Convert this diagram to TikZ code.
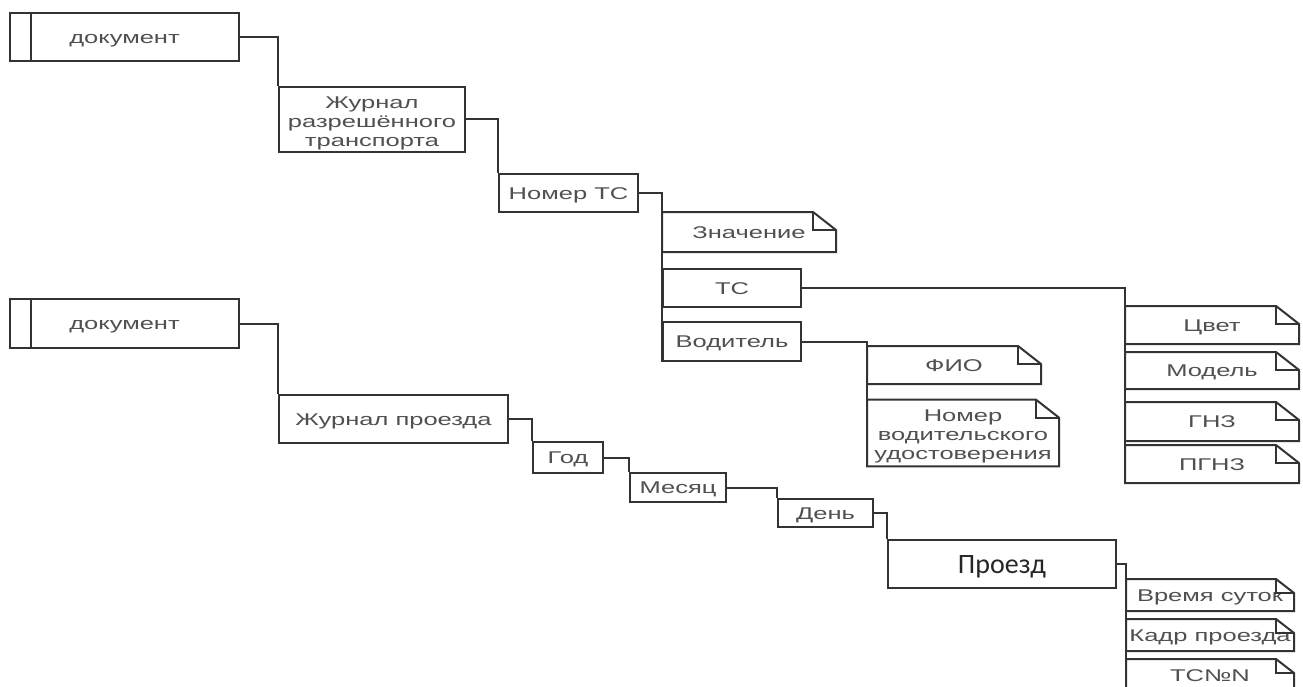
\documentclass[tikz,border=0pt]{standalone}
\usepackage{fontspec}
\newfontfamily\wfont[FakeStretch=1.5]{Liberation Sans}
\newfontfamily\cfont{Carlito}
\definecolor{lc}{HTML}{333333}
\definecolor{tc}{HTML}{505050}
\newcommand\mlines[1]{{\setlength\tabcolsep{0pt}\begin{tabular}{c}#1\end{tabular}}}
\tikzset{
  ln/.style={draw=lc, line width=2pt},
  box/.style={ln, inner sep=0pt, text=tc,
    font=\wfont\fontsize{17}{19}\selectfont},
  tb/.style={box, text height=12.2pt, text depth=0pt},
  notebox/.style={tb, draw=none},
}
\begin{document}
\begin{tikzpicture}[x=1pt,y=-1pt]
\useasboundingbox (0,0) rectangle (1303,687);
\fill[white] (0,0) rectangle (1303,687);
\clip (0,0) rectangle (1303,687);
% upper tree
\node[tb, minimum width=229, minimum height=48] (doc1) at (124.5,37) {документ};
\node[box, minimum width=186, minimum height=63] (jr) at (372,119.5)
  {\mlines{\rule{0pt}{21pt}Журнал\\разрешённого\\транспорта}};
\node[tb, minimum width=139, minimum height=38] (nts) at (568.5,193) {Номер ТС};
\node[notebox, minimum width=172, minimum height=38] (zn) at (749,232) {Значение};
\node[tb, minimum width=138, minimum height=38] (ts) at (732,288) {ТС};
\node[tb, minimum width=138, minimum height=39] (vod) at (732,341.5) {Водитель};
\node[notebox, minimum width=172, minimum height=36] (fio) at (954,365) {ФИО};
\node[box, draw=none, minimum width=190, minimum height=60] (nvu) at (963,433)
  {\mlines{\rule{0pt}{21pt}Номер\\водительского\\удостоверения}};
\node[notebox, minimum width=172, minimum height=36] (cv) at (1212,325) {Цвет};
\node[notebox, minimum width=172, minimum height=35] (mod) at (1212,370.5) {Модель};
\node[notebox, minimum width=172, minimum height=37] (gnz) at (1212,421.5) {ГНЗ};
\node[notebox, minimum width=172, minimum height=36] (pgnz) at (1212,464) {ПГНЗ};
% lower tree
\node[tb, minimum width=229, minimum height=49] (doc2) at (124.5,323.5) {документ};
\node[tb, minimum width=229, minimum height=48] (jp) at (393.5,419) {Журнал проезда};
\node[tb, minimum width=70, minimum height=31] (god) at (568,457.5) {Год};
\node[tb, minimum width=96, minimum height=29] (mes) at (678,487.5) {Месяц};
\node[tb, minimum width=95, minimum height=28] (den) at (825.5,513) {День};
\node[box, text height=18pt, text depth=0pt, minimum width=228, minimum height=48,
  text=black!85, font=\cfont\fontsize{28}{32}\selectfont] (pr) at (1002,564) {Проезд};
\node[notebox, minimum width=166, minimum height=30] (vs) at (1210,595) {Время суток};
\node[notebox, minimum width=166, minimum height=30] (kp) at (1210,635) {Кадр проезда};
\node[notebox, minimum width=166, minimum height=30] (tcn) at (1210,675) {ТС№N};
% document bars
\draw[ln] ([xshift=22pt]doc1.north west) -- ([xshift=22pt]doc1.south west);
\draw[ln] ([xshift=22pt]doc2.north west) -- ([xshift=22pt]doc2.south west);
% note outlines
\foreach \n in {zn,fio,nvu,cv,mod,gnz,pgnz} {
  \draw[ln] (\n.north west) -- ([xshift=-23pt]\n.north east) -- ([yshift=-18pt]\n.north east)
    -- (\n.south east) -- (\n.south west) -- cycle;
  \draw[ln] ([xshift=-23pt]\n.north east) |- ([yshift=-18pt]\n.north east);
}
\foreach \n in {vs,kp,tcn} {
  \draw[ln] (\n.north west) -- ([xshift=-18pt]\n.north east) -- ([yshift=-14pt]\n.north east)
    -- (\n.south east) -- (\n.south west) -- cycle;
  \draw[ln] ([xshift=-18pt]\n.north east) |- ([yshift=-14pt]\n.north east);
}
% connectors
\draw[ln] (doc1.east) -| (jr.north west);
\draw[ln] (jr.east) -| (nts.north west);
\draw[ln] (nts.east) -| (vod.south west);
\draw[ln] (ts.east) -| (pgnz.south west);
\draw[ln] (vod.east) -| (nvu.south west);
\draw[ln] (doc2.east) -| (jp.north west);
\draw[ln] (jp.east) -| (god.north west);
\draw[ln] (god.east) -| (mes.north west);
\draw[ln] (mes.east) -| (den.north west);
\draw[ln] (den.east) -| (pr.north west);
\draw[ln] (pr.east) -| (tcn.south west);
\end{tikzpicture}
\end{document}
